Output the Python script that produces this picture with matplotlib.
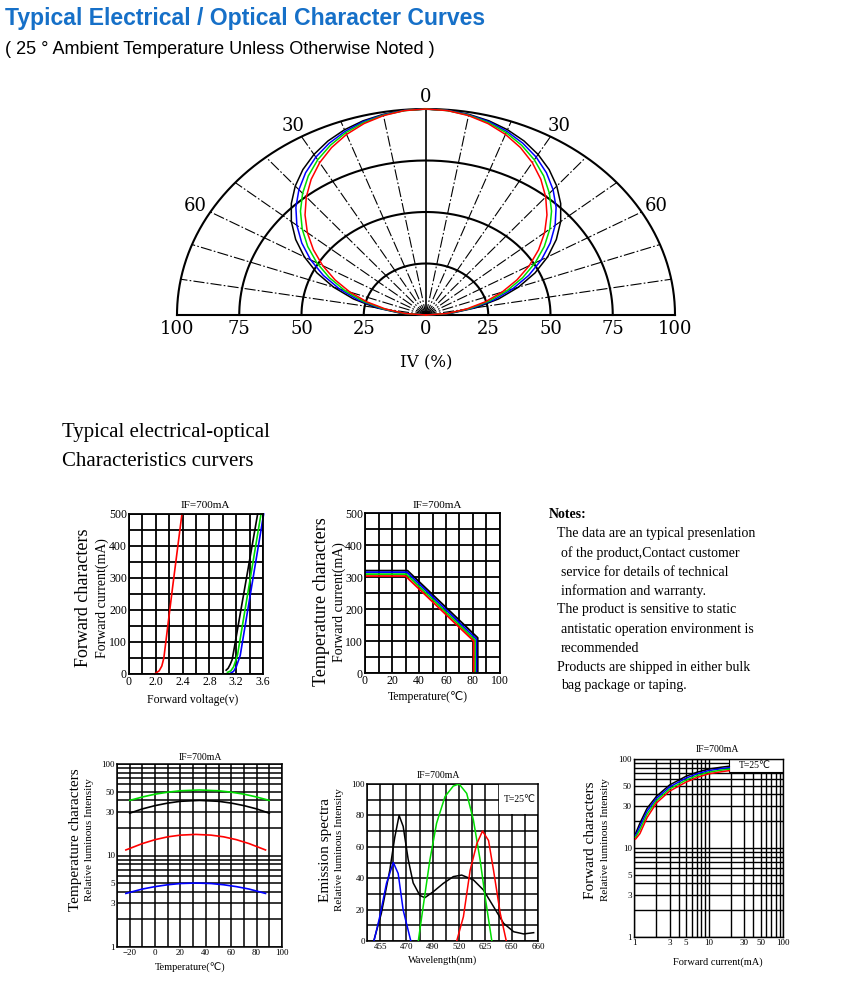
import numpy as np
import matplotlib
matplotlib.use('Agg')
import matplotlib.pyplot as plt
from matplotlib.patches import Rectangle
from matplotlib.ticker import MultipleLocator, FixedLocator, NullFormatter, LogLocator

W, H = 850, 1000
SERIF = ['Liberation Serif', 'DejaVu Sans']
plt.rcParams['font.family'] = SERIF

# --- angular distribution (relative intensity % vs angle, symmetric) ---
polar_angles = [0, 5, 10, 15, 20, 25, 30, 35, 40, 45, 50, 55, 60, 65, 70, 75, 80, 85, 90]
iv_black = [100, 99.7, 98.9, 97.6, 95.7, 93.2, 90.0, 86.2, 81.7, 76.5, 70.6, 63.9, 56.4, 48.3, 39.5, 30.2, 20.4, 10.3, 0]
iv_blue = [100, 99.7, 98.7, 97.2, 94.9, 92.0, 88.5, 84.3, 79.4, 73.9, 67.7, 60.9, 53.5, 45.5, 37.0, 28.1, 18.9, 9.5, 0]
iv_green = [100, 99.6, 98.5, 96.7, 94.2, 90.9, 87.0, 82.4, 77.1, 71.3, 64.9, 58.0, 50.6, 42.8, 34.7, 26.3, 17.6, 8.9, 0]
iv_red = [100, 99.6, 98.3, 96.2, 93.3, 89.7, 85.4, 80.4, 74.8, 68.7, 62.2, 55.2, 47.9, 40.3, 32.5, 24.6, 16.4, 8.3, 0]
ring_levels = [25, 50, 75, 100]
ring_tick_pos = [-100, -75, -50, -25, 0, 25, 50, 75, 100]
ring_tick_labels = ['100', '75', '50', '25', '0', '25', '50', '75', '100']
angle_label_deg = [-60, -30, 0, 30, 60]
angle_label_txt = ['60', '30', '0', '30', '60']

# --- forward voltage vs current ---
fv_red_v = [1.98, 2.05, 2.09, 2.12, 2.25, 2.39]
fv_red_i = [0, 10, 25, 50, 270, 500]
fv_black_v = [3.05, 3.08, 3.11, 3.14, 3.17, 3.52]
fv_black_i = [12, 18, 30, 45, 80, 500]
fv_green_v = [3.07, 3.12, 3.16, 3.19, 3.22, 3.57]
fv_green_i = [5, 10, 22, 40, 60, 500]
fv_blue_v = [3.11, 3.16, 3.20, 3.23, 3.26, 3.61]
fv_blue_i = [2, 8, 22, 40, 58, 500]
fv_xticks = [1.6, 2.0, 2.4, 2.8, 3.2, 3.6]
fv_xlabels = ['0', '2.0', '2.4', '2.8', '3.2', '3.6']

# --- derating: current vs temperature ---
dr_black_t = [0, 31.5, 83.5, 83.5]
dr_black_i = [320, 320, 110, 0]
dr_blue_t = [0, 31, 82.5, 82.5]
dr_blue_i = [315, 315, 106, 0]
dr_green_t = [0, 30.5, 81.5, 81.5]
dr_green_i = [309, 309, 103, 0]
dr_red_t = [0, 30, 80.5, 80.5]
dr_red_i = [303, 303, 100, 0]

# --- relative intensity vs temperature (log) ---
rt_t1 = [-20, -10, 0, 10, 20, 35, 50, 60, 70, 80, 90]
rt_green = [40, 43.6, 46.8, 49.2, 51, 52, 51, 49.2, 46.8, 43.6, 40]
rt_black = [29, 32.3, 35.1, 37.4, 39.1, 40, 39.1, 37.4, 35.1, 32.3, 29]
rt_t2 = [-23, -10, 0, 10, 20, 32, 44, 54, 64, 74, 87]
rt_red = [11.5, 13.5, 14.9, 16.0, 16.7, 17, 16.7, 16.0, 14.9, 13.5, 11.5]
rt_blue = [3.85, 4.30, 4.57, 4.79, 4.94, 5.0, 4.94, 4.79, 4.57, 4.30, 3.85]
log_ticks = [1, 3, 5, 10, 30, 50, 100]
log_labels = ['1', '3', '5', '10', '30', '50', '100']

# --- emission spectra (x in grid columns) ---
sp_black_x = [0.53, 1.09, 1.73, 2.11, 2.44, 2.75, 3.13, 3.51, 4.02, 4.40, 5.04, 5.80, 6.56, 7.20, 8.09, 8.85, 9.62, 10.38, 11.15, 11.91, 12.67]
sp_black_y = [0.6, 17.6, 45, 66, 80, 73, 52, 37, 29, 27.6, 31.4, 36.7, 41, 42, 38.9, 32.5, 21.9, 11.3, 5.9, 4.5, 5.3]
sp_blue_x = [0.53, 0.97, 1.48, 2.0, 2.37, 2.75, 3.33]
sp_blue_y = [0, 15.5, 36.7, 50, 43, 19.7, 0]
sp_green_x = [3.90, 4.27, 4.78, 5.29, 5.93, 6.56, 7.0, 7.58, 8.09, 8.60, 8.98, 9.49]
sp_green_y = [0, 21.9, 51.6, 75, 92, 98.7, 100, 94, 77, 51.6, 28.2, 0]
sp_red_x = [6.82, 7.33, 7.84, 8.35, 8.78, 9.24, 9.62, 10.13, 10.59]
sp_red_y = [0, 15.5, 45, 62, 70, 64, 45, 17.6, 0]
wl_ticks = [1, 3, 5, 7, 9, 11, 13]
wl_labels = ['455', '470', '490', '520', '625', '650', '660']

# --- relative intensity vs forward current (log-log) ---
fc_i = [1.05, 1.2, 1.5, 2, 3, 5, 7, 10, 15, 19]
fc_black = [14.5, 19, 28, 38, 51, 64, 71, 77, 81, 83]
fc_blue = [13.8, 17.5, 26, 36, 48.5, 61, 68, 74, 78, 80]
fc_green = [13.2, 16, 24, 34, 46, 58, 65, 71, 75, 77]
fc_red = [12.6, 14.5, 22, 32, 43.5, 55, 62, 68, 72, 74]

BLUE = '#0000ff'
GREEN = '#00dd00'
RED = '#ff0000'
TITLE_BLUE = '#1670c8'

fig = plt.figure(figsize=(8.5, 10), dpi=100)


def px_axes(l, t, r, b):
    return fig.add_axes([l / W, 1 - b / H, (r - l) / W, (b - t) / H])


def ftext(x, y, s, **kw):
    fig.text(x / W, 1 - y / H, s, **kw)


# headers
ftext(5, 19, 'Typical Electrical / Optical Character Curves', fontsize=16.6, fontweight='bold',
      color=TITLE_BLUE, family='Liberation Sans', va='center')
ftext(5, 50, '( 25 \u00b0 Ambient Temperature Unless Otherwise Noted )', fontsize=13,
      family='Liberation Sans', va='center')

# ---------------- polar chart ----------------
axp = px_axes(177, 109, 675, 315)
axp.set_xlim(-100, 100)
axp.set_ylim(0, 100)
axp.axis('off')
t = np.linspace(0, np.pi, 300)
for r in ring_levels:
    axp.plot(r * np.cos(t), r * np.sin(t), color='black', lw=1.5, clip_on=False)
axp.plot([-100, 100], [0, 0], color='black', lw=1.5, clip_on=False)
axp.plot([0, 0], [0, 100], color='black', lw=1.2)
for a in range(-80, 90, 10):
    if a == 0:
        continue
    ar = np.deg2rad(a)
    axp.plot([0, 100 * np.sin(ar)], [0, 100 * np.cos(ar)], color='black', lw=0.8,
             linestyle=(0, (10, 2, 1.5, 2)), clip_on=False)
ang = np.array(polar_angles)
full_ang = np.deg2rad(np.r_[-ang[::-1], ang[1:]])
for vals, c in [(iv_black, 'black'), (iv_blue, BLUE), (iv_green, GREEN), (iv_red, RED)]:
    v = np.array(vals)
    rr = np.r_[v[::-1], v[1:]]
    axp.plot(rr * np.sin(full_ang), rr * np.cos(full_ang), color=c, lw=1.1, clip_on=False)
for xp, lab in zip(ring_tick_pos, ring_tick_labels):
    axp.text(xp, -7, lab, ha='center', va='center', fontsize=13, family='DejaVu Serif')
for a, lab in zip(angle_label_deg, angle_label_txt):
    ar = np.deg2rad(a)
    axp.text(107 * np.sin(ar), 106 * np.cos(ar), lab, ha='center', va='center',
             fontsize=13, family='DejaVu Serif')
axp.text(0, -23, 'IV (%)', ha='center', va='center', fontsize=12, family='DejaVu Serif')

ftext(62, 433, 'Typical electrical-optical', fontsize=15, va='center')
ftext(62, 462, 'Characteristics curvers', fontsize=15, va='center')


def style_grid(ax, lw=1.2, tsize=8):
    ax.grid(True, which='both', color='black', lw=lw)
    ax.set_axisbelow(True)
    ax.tick_params(which='both', length=0, pad=1.5, labelsize=tsize)
    for s in ax.spines.values():
        s.set_linewidth(lw)


# ---------------- forward voltage chart ----------------
ax1 = px_axes(129, 514, 263, 674)
ax1.set_xlim(1.6, 3.6)
ax1.set_ylim(0, 500)
ax1.xaxis.set_major_locator(FixedLocator(fv_xticks))
ax1.set_xticklabels(fv_xlabels)
ax1.xaxis.set_minor_locator(MultipleLocator(0.2))
ax1.yaxis.set_major_locator(MultipleLocator(100))
ax1.yaxis.set_minor_locator(MultipleLocator(50))
style_grid(ax1, 1.3, 8.5)
ax1.plot(fv_red_v, fv_red_i, color=RED, lw=1.2, clip_on=False)
ax1.plot(fv_black_v, fv_black_i, color='black', lw=1.2, clip_on=False)
ax1.plot(fv_green_v, fv_green_i, color=GREEN, lw=1.2, clip_on=False)
ax1.plot(fv_blue_v, fv_blue_i, color=BLUE, lw=1.2, clip_on=False)
ftext(205, 505, 'IF=700mA', fontsize=8, ha='center', va='center')
ftext(84, 598, 'Forward characters', fontsize=13, rotation=90, ha='center', va='center')
ftext(102, 598, 'Forward current(mA)', fontsize=10, rotation=90, ha='center', va='center')
ftext(193, 700, 'Forward voltage(v)', fontsize=8.5, ha='center', va='center')

# ---------------- derating chart ----------------
ax2 = px_axes(365, 513, 500, 673)
ax2.set_xlim(0, 100)
ax2.set_ylim(0, 500)
ax2.xaxis.set_major_locator(MultipleLocator(20))
ax2.xaxis.set_minor_locator(MultipleLocator(10))
ax2.yaxis.set_major_locator(MultipleLocator(100))
ax2.yaxis.set_minor_locator(MultipleLocator(50))
style_grid(ax2, 1.3, 8.5)
ax2.plot(dr_black_t, dr_black_i, color='black', lw=1.3)
ax2.plot(dr_blue_t, dr_blue_i, color=BLUE, lw=1.3)
ax2.plot(dr_green_t, dr_green_i, color=GREEN, lw=1.3)
ax2.plot(dr_red_t, dr_red_i, color=RED, lw=1.3)
ftext(437, 505, 'IF=700mA', fontsize=8, ha='center', va='center')
ftext(322, 602, 'Temperature characters', fontsize=13, rotation=90, ha='center', va='center')
ftext(339, 602, 'Forward current(mA)', fontsize=10, rotation=90, ha='center', va='center')
ftext(428, 697, 'Temperature(\u2103)', fontsize=8.5, ha='center', va='center')

# ---------------- notes ----------------
ftext(549, 515, 'Notes:', fontsize=10, fontweight='bold', va='center')
notes = [(557, 'The data are an typical presenlation'),
         (561, 'of the product,Contact customer'),
         (561, 'service for details of technical'),
         (561, 'information and warranty.'),
         (557, 'The product is sensitive to static'),
         (561, 'antistatic operation environment is'),
         (561, 'recommended'),
         (557, 'Products are shipped in either bulk'),
         (561, 'bag package or taping.')]
for k, (xp, s) in enumerate(notes):
    ftext(xp, 534 + 19 * k, s, fontsize=10, va='center')

# ---------------- intensity vs temperature ----------------
ax3 = px_axes(117, 764, 282, 947)
ax3.set_yscale('log')
ax3.set_xlim(-30, 100)
ax3.set_ylim(1, 100)
ax3.xaxis.set_major_locator(MultipleLocator(20, offset=0))
ax3.xaxis.set_minor_locator(MultipleLocator(10))
ax3.yaxis.set_major_locator(FixedLocator(log_ticks))
ax3.set_yticklabels(log_labels)
ax3.yaxis.set_minor_locator(LogLocator(subs=range(2, 10)))
ax3.yaxis.set_minor_formatter(NullFormatter())
style_grid(ax3, 1.1, 6.5)
ax3.plot(rt_t1, rt_green, color=GREEN, lw=1.2)
ax3.plot(rt_t1, rt_black, color='black', lw=1.2)
ax3.plot(rt_t2, rt_red, color=RED, lw=1.2)
ax3.plot(rt_t2, rt_blue, color=BLUE, lw=1.2)
ftext(200, 757, 'IF=700mA', fontsize=7, ha='center', va='center')
ftext(75, 840, 'Temperature characters', fontsize=11, rotation=90, ha='center', va='center')
ftext(89, 840, 'Relative luminous Intensity', fontsize=8, rotation=90, ha='center', va='center')
ftext(190, 968, 'Temperature(\u2103)', fontsize=7.5, ha='center', va='center')

# ---------------- emission spectra ----------------
ax4 = px_axes(367, 784, 538, 941)
ax4.set_xlim(0, 13)
ax4.set_ylim(0, 100)
ax4.xaxis.set_major_locator(FixedLocator(wl_ticks))
ax4.set_xticklabels(wl_labels)
ax4.xaxis.set_minor_locator(MultipleLocator(1))
ax4.yaxis.set_major_locator(MultipleLocator(20))
ax4.yaxis.set_minor_locator(MultipleLocator(10))
style_grid(ax4, 1.1, 6.5)
ax4.add_patch(Rectangle((10.05, 81), 2.95, 19, facecolor='white', edgecolor='none', zorder=1.5))
ax4.text(11.6, 90, 'T=25\u2103', fontsize=7, ha='center', va='center', zorder=4)
ax4.plot(sp_black_x, sp_black_y, color='black', lw=1.1, zorder=3)
ax4.plot(sp_blue_x, sp_blue_y, color=BLUE, lw=1.1, zorder=3)
ax4.plot(sp_green_x, sp_green_y, color=GREEN, lw=1.1, zorder=3)
ax4.plot(sp_red_x, sp_red_y, color=RED, lw=1.1, zorder=3)
ftext(438, 775, 'IF=700mA', fontsize=7, ha='center', va='center')
ftext(325, 850, 'Emission spectra', fontsize=11, rotation=90, ha='center', va='center')
ftext(340, 850, 'Relative luminous Intensity', fontsize=8, rotation=90, ha='center', va='center')
ftext(443, 960, 'Wavelength(nm)', fontsize=7.5, ha='center', va='center')

# ---------------- intensity vs forward current ----------------
ax5 = px_axes(634, 759, 783, 937)
ax5.set_xscale('log')
ax5.set_yscale('log')
ax5.set_xlim(1, 100)
ax5.set_ylim(1, 100)
for axis in (ax5.xaxis, ax5.yaxis):
    axis.set_major_locator(FixedLocator(log_ticks))
    axis.set_minor_locator(LogLocator(subs=range(2, 10)))
    axis.set_minor_formatter(NullFormatter())
ax5.set_xticklabels(log_labels)
ax5.set_yticklabels(log_labels)
style_grid(ax5, 1.0, 6.5)
ax5.add_patch(Rectangle((19, 72), 81, 28, facecolor='white', edgecolor='black', lw=0.8, zorder=1.5))
ax5.text(42, 85, 'T=25\u2103', fontsize=7, ha='center', va='center', zorder=4)
ax5.plot(fc_i, fc_black, color='black', lw=1.1, zorder=3)
ax5.plot(fc_i, fc_blue, color=BLUE, lw=1.1, zorder=3)
ax5.plot(fc_i, fc_green, color=GREEN, lw=1.1, zorder=3)
ax5.plot(fc_i, fc_red, color=RED, lw=1.1, zorder=3)
ftext(717, 750, 'IF=700mA', fontsize=7, ha='center', va='center')
ftext(590, 840, 'Forward characters', fontsize=11, rotation=90, ha='center', va='center')
ftext(605, 840, 'Relative luminous Intensity', fontsize=8, rotation=90, ha='center', va='center')
ftext(718, 962, 'Forward current(mA)', fontsize=7.5, ha='center', va='center')

fig.savefig('out.png', dpi=100)
